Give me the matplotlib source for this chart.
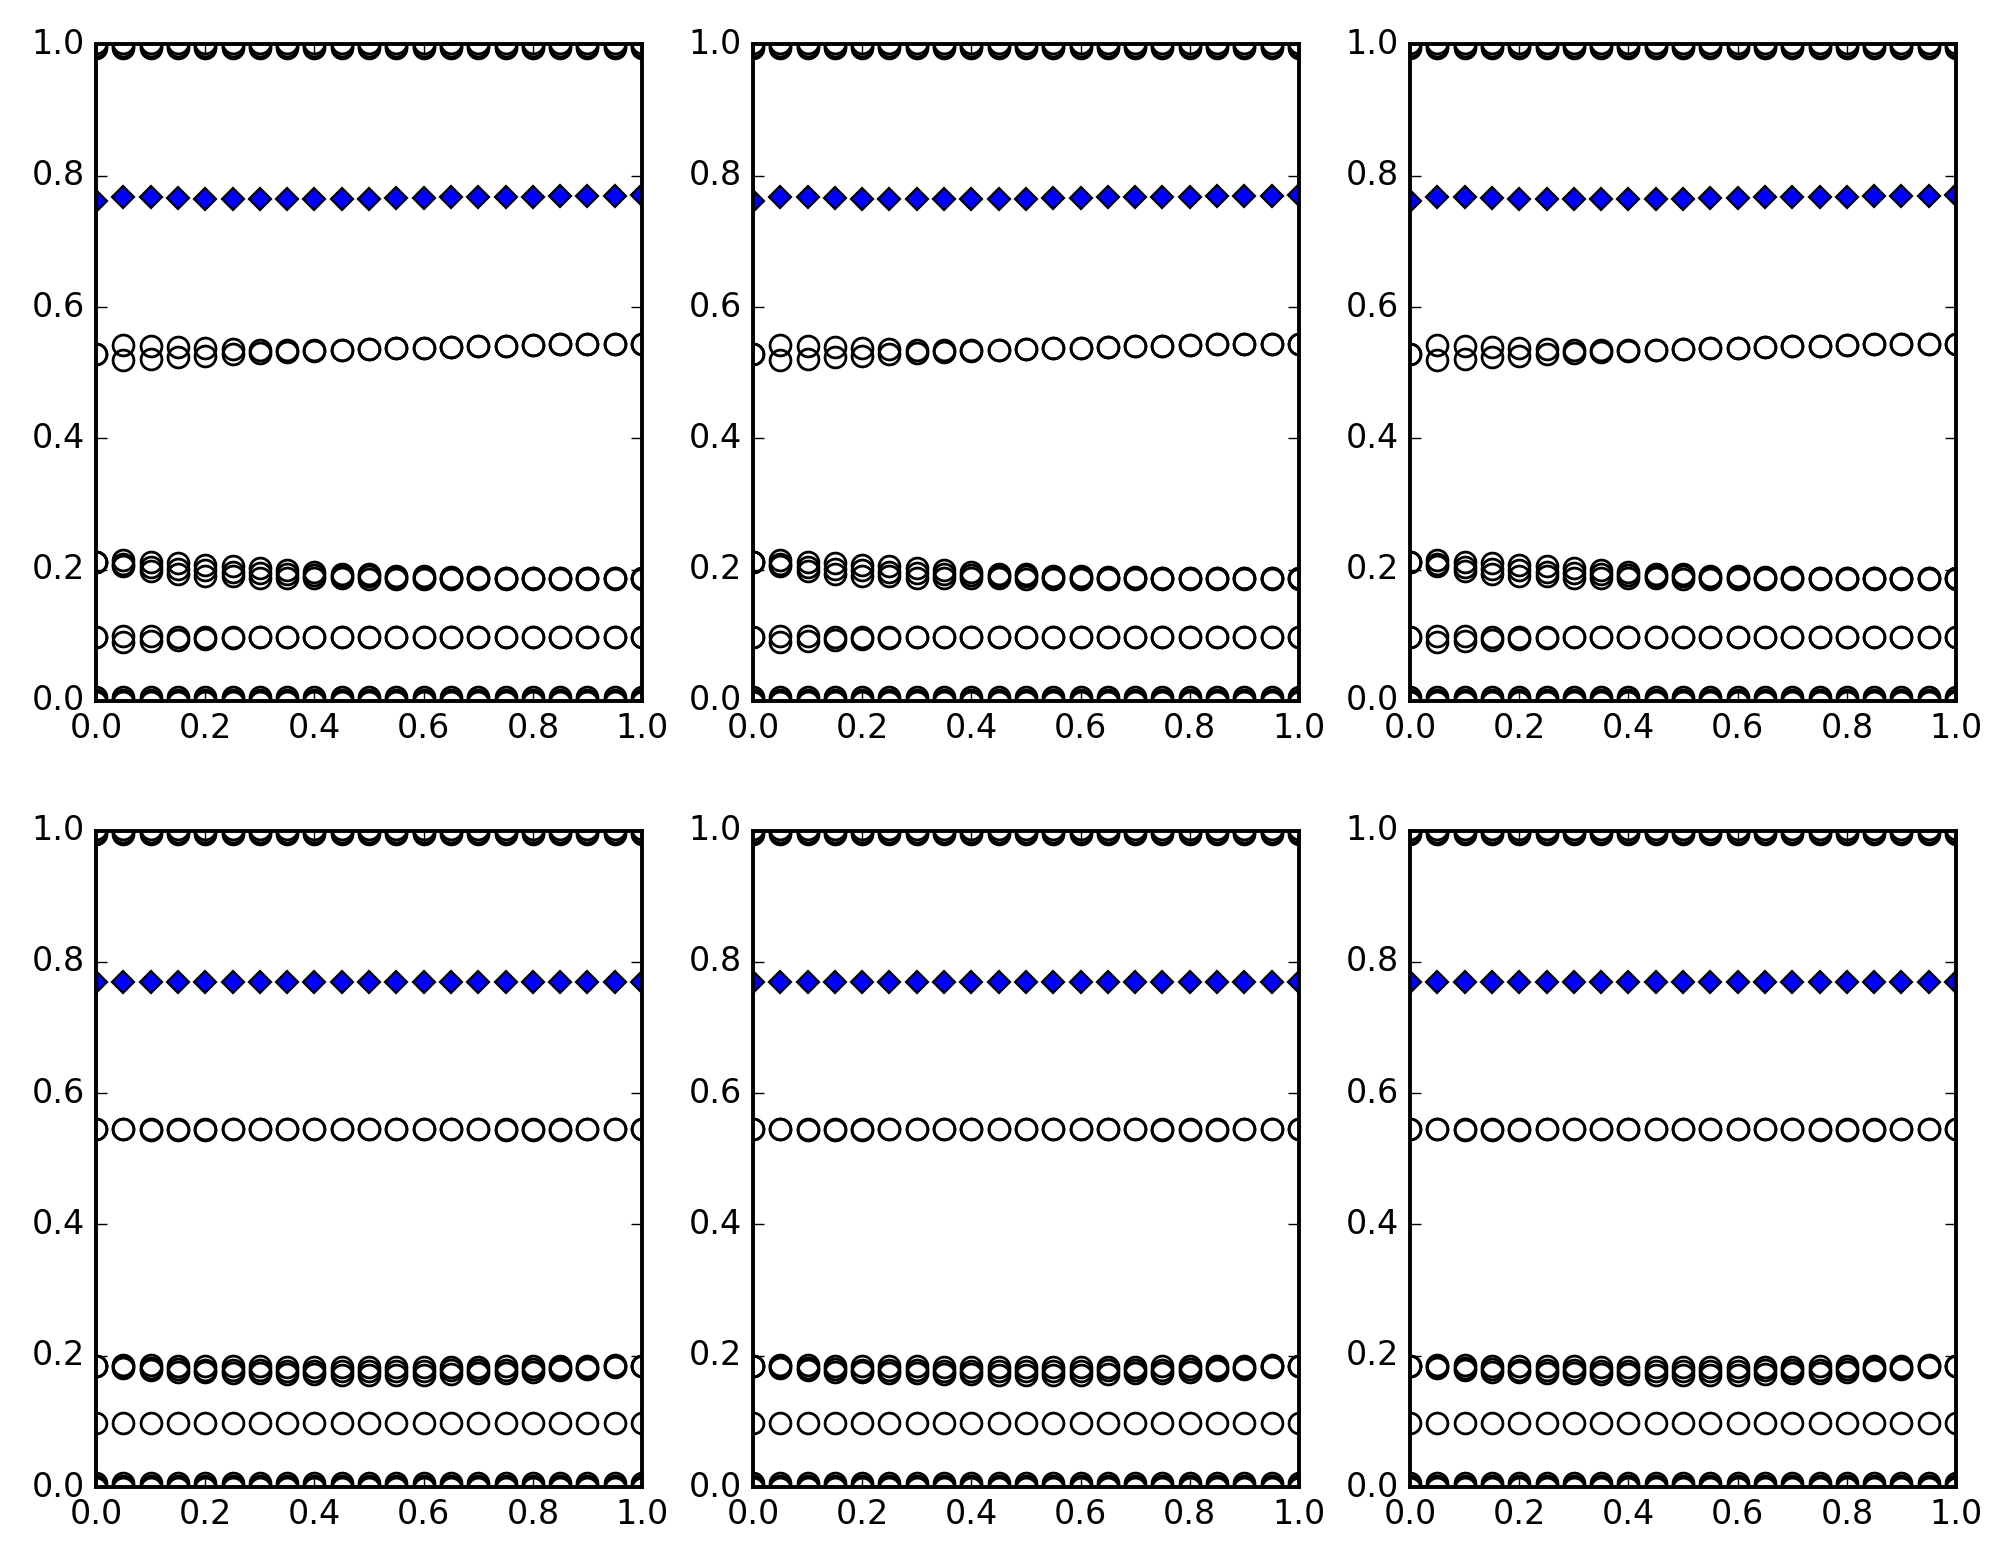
import matplotlib
matplotlib.use("Agg")
import matplotlib.pyplot as plt

plt.style.use("classic")

# ── Datos ─────────────────────────────────────────────────────────────────────

X = [0.00, 0.05, 0.10, 0.15, 0.20, 0.25, 0.30, 0.35, 0.40, 0.45, 0.50,
     0.55, 0.60, 0.65, 0.70, 0.75, 0.80, 0.85, 0.90, 0.95, 1.00]

# bordes (comunes a las dos filas)
EDGE_TOP_A = [0.998, 0.998, 0.998, 0.998, 0.998, 0.998, 0.998, 0.998, 0.998, 0.998, 0.998,
              0.998, 0.998, 0.998, 0.998, 0.998, 0.998, 0.998, 0.998, 0.998, 0.998]
EDGE_TOP_B = [0.994, 0.994, 0.994, 0.994, 0.994, 0.994, 0.994, 0.994, 0.994, 0.994, 0.994,
              0.994, 0.994, 0.994, 0.994, 0.994, 0.994, 0.994, 0.994, 0.994, 0.994]
EDGE_TOP_C = [1.002, 1.002, 1.002, 1.002, 1.002, 1.002, 1.002, 1.002, 1.002, 1.002, 1.002,
              1.002, 1.002, 1.002, 1.002, 1.002, 1.002, 1.002, 1.002, 1.002, 1.002]
EDGE_BOT_A = [0.002, 0.002, 0.002, 0.002, 0.002, 0.002, 0.002, 0.002, 0.002, 0.002, 0.002,
              0.002, 0.002, 0.002, 0.002, 0.002, 0.002, 0.002, 0.002, 0.002, 0.002]
EDGE_BOT_B = [0.006, 0.006, 0.006, 0.006, 0.006, 0.006, 0.006, 0.006, 0.006, 0.006, 0.006,
              0.006, 0.006, 0.006, 0.006, 0.006, 0.006, 0.006, 0.006, 0.006, 0.006]
EDGE_BOT_C = [-0.002, -0.002, -0.002, -0.002, -0.002, -0.002, -0.002, -0.002, -0.002, -0.002, -0.002,
              -0.002, -0.002, -0.002, -0.002, -0.002, -0.002, -0.002, -0.002, -0.002, -0.002]

# fila superior
TOP_DIAMOND = [0.762, 0.767, 0.767, 0.766, 0.765, 0.764, 0.764, 0.764, 0.764, 0.765, 0.765,
               0.766, 0.766, 0.767, 0.767, 0.768, 0.768, 0.769, 0.769, 0.769, 0.770]
TOP_MID_A = [0.529, 0.542, 0.541, 0.539, 0.538, 0.536, 0.535, 0.534, 0.534, 0.535, 0.536,
             0.537, 0.538, 0.539, 0.540, 0.541, 0.542, 0.543, 0.543, 0.544, 0.544]
TOP_MID_B = [0.529, 0.519, 0.521, 0.524, 0.526, 0.528, 0.530, 0.532, 0.533, 0.535, 0.536,
             0.537, 0.538, 0.539, 0.540, 0.541, 0.542, 0.543, 0.543, 0.544, 0.544]
TOP_LOW_A = [0.212, 0.214, 0.211, 0.210, 0.207, 0.205, 0.202, 0.200, 0.197, 0.194, 0.193,
             0.191, 0.190, 0.189, 0.189, 0.188, 0.188, 0.188, 0.188, 0.188, 0.188]
TOP_LOW_B = [0.212, 0.209, 0.204, 0.201, 0.199, 0.197, 0.195, 0.194, 0.192, 0.191, 0.190,
             0.189, 0.188, 0.188, 0.187, 0.187, 0.187, 0.187, 0.187, 0.187, 0.187]
TOP_LOW_C = [0.212, 0.205, 0.198, 0.193, 0.191, 0.190, 0.188, 0.188, 0.187, 0.187, 0.186,
             0.186, 0.186, 0.186, 0.186, 0.186, 0.186, 0.186, 0.186, 0.186, 0.186]
TOP_TENTH_A = [0.097, 0.099, 0.099, 0.098, 0.098, 0.097, 0.097, 0.097, 0.097, 0.097, 0.097,
               0.097, 0.097, 0.097, 0.097, 0.097, 0.097, 0.097, 0.097, 0.097, 0.097]
TOP_TENTH_B = [0.097, 0.090, 0.091, 0.093, 0.094, 0.096, 0.097, 0.097, 0.097, 0.097, 0.097,
               0.097, 0.097, 0.097, 0.097, 0.097, 0.097, 0.097, 0.097, 0.097, 0.097]

# fila inferior
BOT_DIAMOND = [0.770, 0.770, 0.770, 0.770, 0.770, 0.770, 0.770, 0.770, 0.770, 0.770, 0.770,
               0.770, 0.770, 0.770, 0.770, 0.770, 0.770, 0.770, 0.770, 0.770, 0.770]
BOT_MID_A = [0.546, 0.546, 0.546, 0.546, 0.546, 0.546, 0.546, 0.546, 0.546, 0.546, 0.546,
             0.546, 0.546, 0.546, 0.546, 0.546, 0.546, 0.546, 0.546, 0.546, 0.546]
BOT_MID_B = [0.546, 0.546, 0.544, 0.544, 0.544, 0.545, 0.546, 0.546, 0.546, 0.546, 0.546,
             0.546, 0.546, 0.546, 0.545, 0.544, 0.544, 0.544, 0.545, 0.546, 0.546]
BOT_LOW_A = [0.184, 0.186, 0.186, 0.185, 0.185, 0.184, 0.184, 0.183, 0.183, 0.183, 0.183,
             0.183, 0.183, 0.183, 0.183, 0.184, 0.184, 0.185, 0.185, 0.186, 0.184]
BOT_LOW_B = [0.184, 0.182, 0.178, 0.176, 0.175, 0.174, 0.173, 0.172, 0.172, 0.171, 0.171,
             0.171, 0.171, 0.172, 0.173, 0.174, 0.176, 0.178, 0.180, 0.183, 0.184]
BOT_LOW_C = [0.184, 0.184, 0.182, 0.180, 0.179, 0.178, 0.178, 0.177, 0.177, 0.177, 0.177,
             0.177, 0.177, 0.178, 0.178, 0.179, 0.180, 0.181, 0.182, 0.184, 0.184]
BOT_TENTH = [0.097, 0.097, 0.097, 0.097, 0.097, 0.097, 0.097, 0.097, 0.097, 0.097, 0.097,
             0.097, 0.097, 0.097, 0.097, 0.097, 0.097, 0.097, 0.097, 0.097, 0.097]

TICKS = [0.0, 0.2, 0.4, 0.6, 0.8, 1.0]

EDGES = [EDGE_TOP_A, EDGE_TOP_B, EDGE_TOP_C, EDGE_BOT_A, EDGE_BOT_B, EDGE_BOT_C]
ROWS = [
    (TOP_DIAMOND, [TOP_MID_A, TOP_MID_B, TOP_LOW_A, TOP_LOW_B, TOP_LOW_C,
                   TOP_TENTH_A, TOP_TENTH_B]),
    (BOT_DIAMOND, [BOT_MID_A, BOT_MID_B, BOT_LOW_A, BOT_LOW_B, BOT_LOW_C, BOT_TENTH]),
]


def dibujar(ax, diamantes, circulos):
    for serie in EDGES + circulos:
        ax.plot(X, serie, "o", mfc="none", mec="k", mew=1.0, ms=7.5)
    ax.plot(X, diamantes, "D", color="b", mec="k", mew=0.8, ms=5.5)
    ax.set_xlim(0, 1)
    ax.set_ylim(0, 1)
    ax.set_xticks(TICKS)
    ax.set_yticks(TICKS)
    for sp in ax.spines.values():
        sp.set_linewidth(1.4)


fig = plt.figure(figsize=(10.02, 7.825), dpi=200, facecolor="white")
lefts = [0.0479, 0.3757, 0.7036]
bottoms = [0.5521, 0.0498]
for fila, (diam, circ) in enumerate(ROWS):
    for col in range(3):
        ax = fig.add_axes([lefts[col], bottoms[fila], 0.2725, 0.4195])
        dibujar(ax, diam, circ)

fig.savefig("out.png", dpi=200, facecolor="white")
